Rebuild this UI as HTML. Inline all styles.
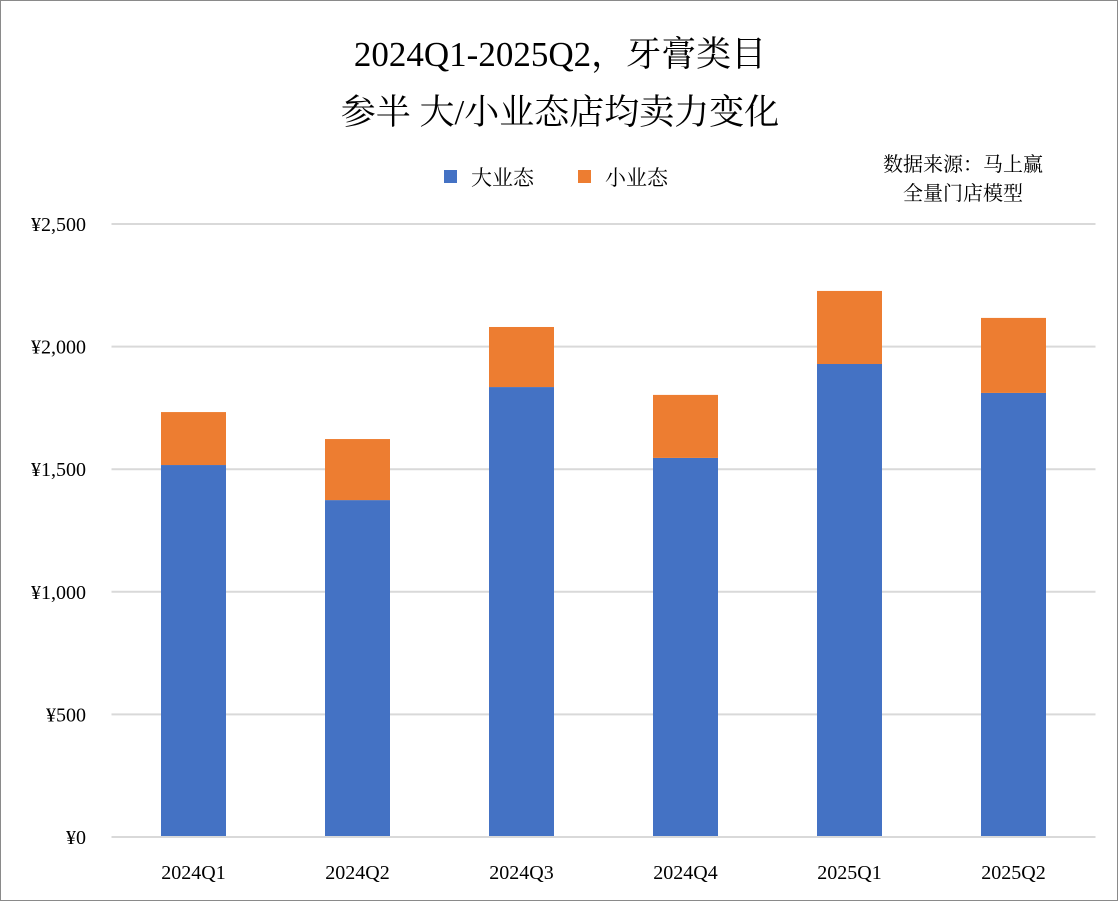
<!DOCTYPE html>
<html><head><meta charset="utf-8"><style>
body{margin:0;background:#fff;}
#c{position:relative;width:1118px;height:901px;box-sizing:border-box;border:1px solid #8a8a8a;overflow:hidden;font-family:"Liberation Serif","Noto Serif CJK SC",serif;color:#000;}
.t{position:absolute;left:0;width:1118px;text-align:center;font-size:35px;}
.src{position:absolute;right:44px;font-size:20px;text-align:center;width:220px;font-family:"Liberation Serif","Noto Serif CJK SC",serif;}
</style></head><body>
<div id="c">
<div class="t" style="top:26px">2024Q1-2025Q2，牙膏类目</div>
<div class="t" style="top:84px">参半 大/小业态店均卖力变化</div>
<div class="src" style="top:147px">数据来源：马上赢<br><span style="line-height:34px">全量门店模型</span></div>
<svg id="s" width="1118" height="901" style="position:absolute;left:0;top:0"></svg>
</div>
<script>
const categories=["2024Q1","2024Q2","2024Q3","2024Q4","2025Q1","2025Q2"];
const bigValues=[1517,1374,1835,1546,1929,1811];
const smallValues=[216,249,245,257,298,306];
const yTicks=[0,500,1000,1500,2000,2500];
const yTickLabels=["¥0","¥500","¥1,000","¥1,500","¥2,000","¥2,500"];
const seriesNames=["大业态","小业态"];
const colors=["#4472C4","#ED7D31"];
const NS="http://www.w3.org/2000/svg";
const s=document.getElementById('s');
const x0=110.5,x1=1094.5,y0=836,yTop=223,yMax=2500;
const y=v=>y0-(v/yMax)*(y0-yTop);
const bw=(x1-x0)/categories.length;
const xc=i=>x0+bw*(i+0.5);
function mk(t,a){const e=document.createElementNS(NS,t);for(const k in a)e.setAttribute(k,a[k]);s.appendChild(e);return e;}
yTicks.forEach((v,i)=>{
 const l=mk('line',{x1:x0,x2:x1,y1:y(v),y2:y(v),stroke:'#d9d9d9','stroke-width':2});
 
 
 const t=mk('text',{x:85,y:y(v)+7,'text-anchor':'end','font-size':20,'font-family':'Liberation Serif, serif'});
 t.textContent=yTickLabels[i];
 
 
});
categories.forEach((c,i)=>{
 const w=65;
 const b=mk('rect',{x:xc(i)-w/2,y:y(bigValues[i]),width:w,height:y0-y(bigValues[i]),fill:colors[0]});
 
 
 const tot=bigValues[i]+smallValues[i];
 const o=mk('rect',{x:xc(i)-w/2,y:y(tot),width:w,height:y(bigValues[i])-y(tot),fill:colors[1]});
 
 
 const t=mk('text',{x:xc(i),y:878,'text-anchor':'middle','font-size':20,'font-family':'Liberation Serif, serif'});
 t.textContent=c;
 
 
});
const ax=mk('line',{x1:x0,x2:x1,y1:y0,y2:y0,stroke:'#d9d9d9','stroke-width':2});


const lx=[443,577];
seriesNames.forEach((n,i)=>{
 const r=mk('rect',{x:lx[i],y:169,width:13,height:13,fill:colors[i]});
 
 
 const t=mk('text',{x:lx[i]+27,y:184,'font-size':21,'font-family':'Liberation Serif, Noto Serif CJK SC, serif'});
 t.textContent=n;
 
 
});
</script>
</body></html>
